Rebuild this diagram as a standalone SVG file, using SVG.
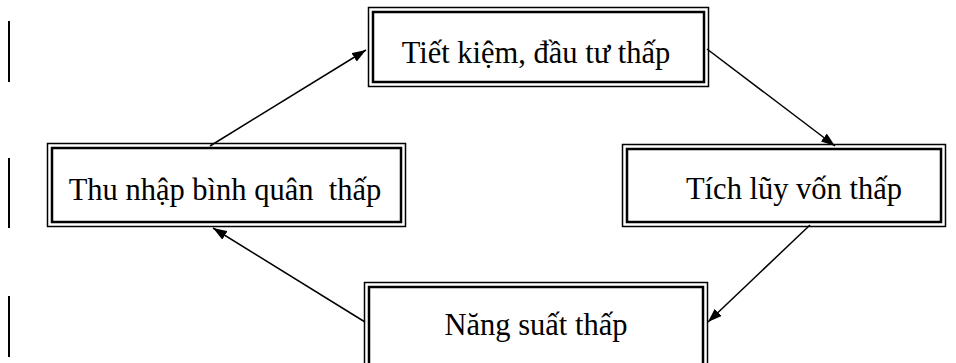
<svg xmlns="http://www.w3.org/2000/svg" width="956" height="363" viewBox="0 0 956 363">
<style>
.o{fill:#fff;stroke:#000;stroke-width:1.5}
.i{fill:none;stroke:#000;stroke-width:2.5}
.t{font-family:"Liberation Serif","Times New Roman",serif;font-size:30.5px;fill:#000;text-anchor:middle;white-space:pre}
.c{stroke:#000;stroke-width:1.5;fill:none;marker-end:url(#ah)}
.bar{stroke:#000;stroke-width:2}
</style>
<defs>
<marker id="ah" viewBox="0 0 14 10" refX="14" refY="5" markerWidth="14" markerHeight="10" markerUnits="userSpaceOnUse" orient="auto">
<path d="M0,0 L14,5 L0,10 Z" fill="#000"/>
</marker>
</defs>
<g id="bars">
<line class="bar" x1="9" y1="21" x2="9" y2="82"/>
<line class="bar" x1="9" y1="158" x2="9" y2="228"/>
<line class="bar" x1="9" y1="296" x2="9" y2="357"/>
</g>
<g id="n1">
<rect class="o" x="368.5" y="7.5" width="340" height="79"/>
<rect class="i" x="373" y="12" width="331" height="70"/>
<text class="t" x="536" y="63">Tiết kiệm, đầu tư thấp</text>
</g>
<g id="n2">
<rect class="o" x="622.5" y="144.5" width="323" height="82"/>
<rect class="i" x="627" y="149" width="314" height="73"/>
<text class="t" x="794" y="199">Tích lũy vốn thấp</text>
</g>
<g id="n3">
<rect class="o" x="364.5" y="282.5" width="343" height="90"/>
<rect class="i" x="369" y="287" width="334" height="90"/>
<text class="t" x="536" y="335">Năng suất thấp</text>
</g>
<g id="n4">
<rect class="o" x="47.5" y="143.5" width="358" height="83"/>
<rect class="i" x="52" y="148" width="349" height="74"/>
<text class="t" x="225" y="200">Thu nhập bình quân  thấp</text>
</g>
<g id="connectors">
<line class="c" x1="210" y1="146" x2="366" y2="50"/>
<line class="c" x1="707" y1="49" x2="835" y2="146"/>
<line class="c" x1="810" y1="225" x2="708" y2="322"/>
<line class="c" x1="365" y1="322" x2="213" y2="228"/>
</g>
</svg>
